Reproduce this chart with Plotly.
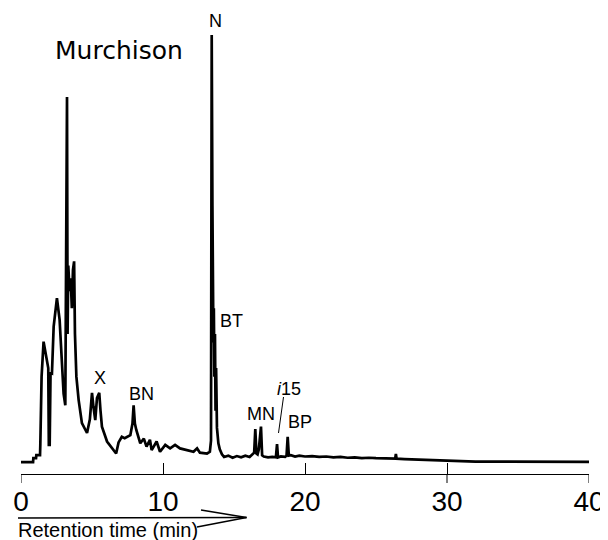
import plotly.graph_objects as go

# retention time (min) and detector response (N peak = 100)
rt = [
    0.0, 0.85, 0.87, 1.06, 1.08, 1.34, 1.36, 1.45, 1.59, 1.75, 1.92, 1.96, 2.02, 2.08,
    2.18, 2.3, 2.53, 2.72, 2.89, 3.0, 3.12, 3.2, 3.24, 3.28, 3.33, 3.42, 3.5, 3.58,
    3.66, 3.74, 3.8, 3.9, 4.06, 4.29, 4.65, 4.85, 5.0, 5.1, 5.23, 5.35, 5.51, 5.6,
    5.7, 6.06, 6.3, 6.52, 6.7, 6.87, 7.1, 7.3, 7.5, 7.7, 7.85, 7.93, 8.02, 8.12,
    8.4, 8.65, 8.84, 9.08, 9.2, 9.55, 9.79, 10.16, 10.5, 10.85, 11.2, 11.7, 12.15,
    12.4, 12.6, 13.1, 13.3, 13.38, 13.43, 13.48, 13.52, 13.55, 13.58, 13.62, 13.66,
    13.7, 13.74, 13.8, 13.9, 14.0, 14.15, 14.3, 14.6, 14.9, 15.2, 15.5, 15.8, 16.1,
    16.3, 16.42, 16.5, 16.58, 16.66, 16.75, 16.9, 16.98, 17.1, 17.4, 17.7, 17.95,
    18.03, 18.1, 18.3, 18.6, 18.7, 18.78, 18.86, 19.0, 19.3, 19.6, 20.0, 20.5,
    21.0, 21.5, 22.0, 22.5, 23.0, 23.5, 24.0, 24.5, 25.0, 25.5, 26.0, 26.35,
    26.4, 26.45, 27.0, 28.0, 29.0, 30.0, 31.0, 32.0, 34.0, 36.0, 38.0, 40.0,
]
signal = [
    0.0, 0.0, 0.9, 0.9, 1.6, 1.6, 4.0, 20.0, 28.2, 25.0, 22.0, 4.0, 4.0, 21.0,
    20.8, 31.7, 38.4, 33.3, 22.3, 16.0, 13.3, 60.0, 85.5, 30.0, 46.0, 40.0, 43.0, 36.0,
    45.0, 47.0, 30.0, 20.0, 14.5, 9.1, 6.8, 10.0, 16.2, 13.0, 9.8, 15.0, 16.2, 12.0,
    8.3, 4.8, 3.8, 3.0, 2.0, 4.6, 5.9, 5.6, 6.0, 6.3, 9.0, 13.3, 9.0, 7.5,
    4.4, 5.5, 3.6, 5.2, 2.8, 4.8, 2.4, 4.0, 3.2, 4.0, 3.2, 2.8, 2.4,
    3.2, 2.2, 2.0, 2.4, 5.0, 100.0, 60.0, 40.0, 28.0, 36.0, 20.0, 30.0,
    12.0, 22.0, 8.0, 4.4, 3.0, 1.8, 1.2, 1.5, 1.0, 1.4, 1.1, 1.5, 1.2,
    1.8, 2.2, 7.7, 2.0, 1.8, 3.0, 8.3, 1.6, 1.3, 1.1, 1.2, 1.1,
    4.2, 1.1, 1.3, 1.2, 1.5, 5.9, 1.5, 1.6, 1.3, 1.5, 1.3, 1.4,
    1.2, 1.3, 1.1, 1.2, 1.0, 1.1, 0.9, 1.0, 0.9, 0.9, 0.8, 0.8,
    1.9, 0.8, 0.7, 0.6, 0.4, 0.3, 0.2, 0.1, 0.1, 0.05, 0.05, 0.05,
]

tick_vals = [0, 10, 20, 30, 40]
tick_text = ["0", "10", "20", "30", "40"]
long_ticks = [0, 30, 40]  # ticks that also cross below the axis line

# peak labels: (text, x pixel, y pixel) in page pixels
peak_labels = [
    ("N", 215.5, 21),
    ("BT", 231.5, 321),
    ("X", 100, 378),
    ("BN", 141, 393.5),
    ("MN", 261, 413.5),
    ("<i>i</i>15", 288.5, 389),
    ("BP", 300, 421.5),
]

# the page body has an 8px margin, so the figure sits at (8, 8)
OFF = 8
W, H = 600, 532
M_L, M_R, M_T, M_B = 13, 19, 27, 66


def px_x(px):
    return (px - OFF - M_L) / (W - M_L - M_R)


def px_y(py):
    return (H - M_B - (py - OFF)) / (H - M_T - M_B)


fig = go.Figure()
fig.add_trace(
    go.Scatter(
        x=rt,
        y=signal,
        mode="lines",
        line=dict(color="black", width=2.7),
        hoverinfo="skip",
        showlegend=False,
    )
)

label_font = dict(family="Liberation Sans, Arial, sans-serif", size=18, color="black")
for text, lx, ly in peak_labels:
    fig.add_annotation(
        text=text, xref="paper", yref="paper", x=px_x(lx), y=px_y(ly),
        xanchor="center", yanchor="middle", showarrow=False, font=label_font,
    )

fig.add_annotation(
    text="Murchison", xref="paper", yref="paper", x=px_x(119), y=px_y(51),
    xanchor="center", yanchor="middle", showarrow=False,
    font=dict(family="DejaVu Sans, sans-serif", size=25, color="black"),
)
fig.add_annotation(
    text="Retention time (min)", xref="paper", yref="paper", x=px_x(16), y=px_y(530),
    xanchor="left", yanchor="middle", showarrow=False,
    font=dict(family="Liberation Sans, Arial, sans-serif", size=20, color="black"),
)

# leader line for i15
fig.add_shape(
    type="line", xref="paper", yref="paper",
    x0=px_x(283.5), y0=px_y(397), x1=px_x(278.5), y1=px_y(433),
    line=dict(color="black", width=1),
)
# downward part of the long ticks
for tv in long_ticks:
    fig.add_shape(
        type="line", xref="x", yref="paper",
        x0=tv, x1=tv, y0=0, y1=px_y(483),
        line=dict(color="black", width=1),
    )
# open arrow under the axis
tip = (246.5, 517.5)
for x0, y0 in [(18, 518), (201, 510), (197, 527)]:
    fig.add_shape(
        type="line", xref="paper", yref="paper",
        x0=px_x(x0), y0=px_y(y0), x1=px_x(tip[0]), y1=px_y(tip[1]),
        line=dict(color="black", width=1.6),
    )

fig.update_layout(
    width=W,
    height=H,
    margin=dict(l=M_L, r=M_R, t=M_T, b=M_B, autoexpand=False),
    paper_bgcolor="white",
    plot_bgcolor="white",
    showlegend=False,
    xaxis=dict(
        range=[0, 40],
        tickvals=tick_vals,
        ticktext=tick_text,
        ticks="inside",
        ticklen=11,
        tickwidth=1,
        tickcolor="black",
        showline=True,
        linecolor="black",
        linewidth=1,
        showgrid=False,
        zeroline=False,
        automargin=False,
        ticklabelstandoff=2,
        tickfont=dict(family="Liberation Sans, Arial, sans-serif", size=28, color="black"),
    ),
    yaxis=dict(
        range=[-2.8, 100],
        visible=False,
        showgrid=False,
        zeroline=False,
        automargin=False,
    ),
)

fig.write_html("out.html")
